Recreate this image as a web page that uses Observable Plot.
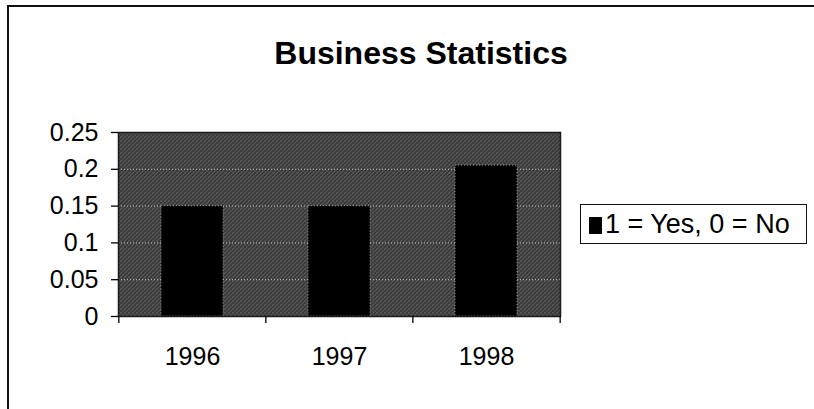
<!DOCTYPE html>
<html>
<head>
<meta charset="utf-8">
<script src="https://cdn.jsdelivr.net/npm/d3@7"></script>
<script src="https://cdn.jsdelivr.net/npm/@observablehq/plot@0.6"></script>
<style>
  html, body { margin: 0; padding: 0; background: #fff; }
  #wrap { position: relative; width: 814px; height: 409px; overflow: hidden; font-family: "Liberation Sans", Arial, sans-serif; color: #000; }
  #border { position: absolute; left: 7px; top: 5px; right: -4px; bottom: -4px; border-top: 2px solid #111; border-left: 2px solid #111; }
  #title { position: absolute; left: 421px; top: 37px; transform: translateX(-50%); font-weight: bold; font-size: 32px; line-height: 1; white-space: nowrap; }
  #chart { position: absolute; left: 0; top: 0; }
  #legend { position: absolute; left: 580px; top: 204px; width: 225px; height: 38px; border: 1.5px solid #111; background: #fff; display: flex; align-items: center; font-size: 27px; white-space: nowrap; }
  #legend .sw { width: 13px; height: 17px; background: #000; margin-left: 8px; margin-right: 3px; margin-top: 2px; }
</style>
</head>
<body>
<div id="wrap">
  <div id="border"></div>
  <div id="title"></div>
  <div id="chart"></div>
  <div id="legend"><div class="sw"></div><span id="legendText"></span></div>
</div>
<script>
const title = "Business Statistics";
const seriesName = "1 = Yes, 0 = No";
const categories = ["1996", "1997", "1998"];
const values = [0.15, 0.15, 0.205];
const yTicks = [0, 0.05, 0.1, 0.15, 0.2, 0.25];
const yTickLabels = ["0", "0.05", "0.1", "0.15", "0.2", "0.25"];

const data = categories.map((c, i) => ({year: c, value: values[i]}));

document.getElementById("title").textContent = title;
document.getElementById("legendText").textContent = seriesName;

const W = 814, H = 409, mL = 118, mR = 254, mT = 132, mB = 93;
const half = (W - mL - mR) / categories.length / 2;

const svg = Plot.plot({
  width: W, height: H,
  marginLeft: mL, marginRight: mR, marginTop: mT, marginBottom: mB,
  style: {fontFamily: "'Liberation Sans', Arial, sans-serif", background: "transparent", color: "#000", overflow: "visible"},
  x: {domain: categories, paddingInner: 0.58, paddingOuter: 0.29, align: 0.5, label: null},
  y: {domain: [0, 0.25], label: null},
  marks: [
    Plot.frame({fill: "url(#texture)", stroke: "none"}),
    Plot.gridY(yTicks.slice(1, -1), {stroke: "#c4c4c4", strokeOpacity: 1, strokeDasharray: "1 2", strokeWidth: 1}),
    Plot.barY(data, {x: "year", y: "value", fill: "#000", stroke: "#9a9a9a", strokeDasharray: "1 2", strokeWidth: 1}),
    Plot.frame({stroke: "#1a1a1a", strokeWidth: 1.5}),
    Plot.axisY(yTicks, {
      tickFormat: d => yTickLabels[yTicks.indexOf(d)],
      tickSize: 7, tickPadding: 13, fontSize: 25, stroke: "#000", fill: "#000", strokeWidth: 1.3
    }),
    Plot.axisX({tickSize: 0, tickPadding: 31, fontSize: 25, fill: "#000"}),
    Plot.axisX(categories, {tickFormat: () => "", tickSize: 7, dx: -half, stroke: "#000", strokeWidth: 1.3}),
    Plot.axisX([categories[categories.length - 1]], {tickFormat: () => "", tickSize: 7, dx: half, stroke: "#000", strokeWidth: 1.3})
  ]
});

// texture pattern for plot area
const ns = "http://www.w3.org/2000/svg";
const defs = document.createElementNS(ns, "defs");
const pat = document.createElementNS(ns, "pattern");
pat.setAttribute("id", "texture");
pat.setAttribute("width", "4");
pat.setAttribute("height", "4");
pat.setAttribute("patternUnits", "userSpaceOnUse");
[[0, 0, 4, 4, "#363636"], [0, 0, 1, 1, "#8e8e8e"], [2, 2, 1, 1, "#7c7c7c"], [3, 1, 1, 1, "#5c5c5c"], [1, 3, 1, 1, "#666"]].forEach(([x, y, w, h, f]) => {
  const r = document.createElementNS(ns, "rect");
  r.setAttribute("x", x); r.setAttribute("y", y);
  r.setAttribute("width", w); r.setAttribute("height", h);
  r.setAttribute("fill", f);
  pat.appendChild(r);
});
defs.appendChild(pat);
svg.insertBefore(defs, svg.firstChild);

document.getElementById("chart").appendChild(svg);
</script>
</body>
</html>
